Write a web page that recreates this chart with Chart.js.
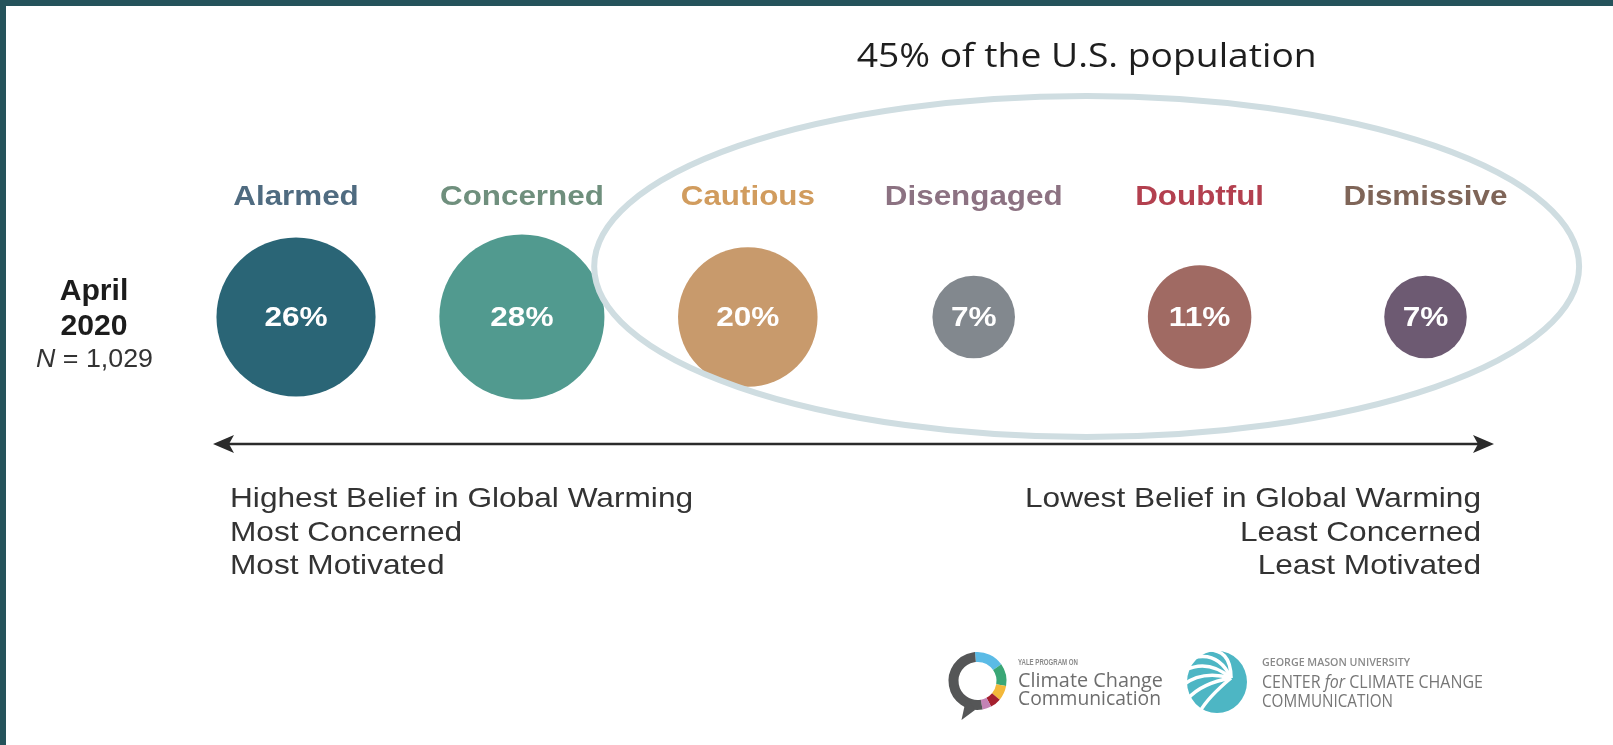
<!DOCTYPE html>
<html>
<head>
<meta charset="utf-8">
<script src="https://cdn.jsdelivr.net/npm/chart.js@4.4.1/dist/chart.umd.min.js"></script>
<style>
    html, body { margin: 0; padding: 0; background: #25535b; overflow: hidden; }
    #wrap { position: absolute; left: 6px; top: 6px; width: 1607px; height: 739px; background: #fff; }
    canvas { display: block; }
</style>
</head>
<body>
<div id="wrap"><canvas id="segments" width="1607" height="739"></canvas></div>
<script>
// Global Warming's Six Americas, April 2020
const categories   = ["Alarmed", "Concerned", "Cautious", "Disengaged", "Doubtful", "Dismissive"];
const shares       = [26, 28, 20, 7, 11, 7];
const bubbleColors = ["#2a6576", "#519a8f", "#c89a6c", "#82888e", "#a06a63", "#6d5a72"];
const labelColors  = ["#4f6b80", "#6f8f7d", "#d19c5e", "#8c7282", "#b3404f", "#7f6558"];
const surveyLines  = ["April", "2020", "1,029"];
const leftNotes    = ["Highest Belief in Global Warming", "Most Concerned", "Most Motivated"];
const rightNotes   = ["Lowest Belief in Global Warming", "Least Concerned", "Least Motivated"];
const groupFrom    = 2; // Cautious .. Dismissive sit inside the ring

// bubble area is proportional to the share
const AREA_K = 15.6;
const groupShare = shares.slice(groupFrom).reduce((a, b) => a + b, 0);

const HELV = '"Liberation Sans", Arial, sans-serif';
const OPEN = '"Open Sans", sans-serif';

// Original type is a wide Helvetica, so stretch Liberation Sans a bit.
function stretchText(ctx, text, x, y, sx, align) {
    ctx.save();
    ctx.translate(x, y);
    ctx.scale(sx, 1);
    ctx.textAlign = align || "center";
    ctx.fillText(text, 0, 0);
    ctx.restore();
}

// Draw a row of [font, text] runs starting at x, squeezed to a target width.
function drawRuns(ctx, runs, x, y, width) {
    let total = 0;
    for (const [font, t] of runs) { ctx.font = font; total += ctx.measureText(t).width; }
    const sx = width / total;
    ctx.save();
    ctx.translate(x, y);
    ctx.scale(sx, 1);
    ctx.textAlign = "left";
    let cx = 0;
    for (const [font, t] of runs) {
        ctx.font = font;
        ctx.fillText(t, cx, 0);
        cx += ctx.measureText(t).width;
    }
    ctx.restore();
}

function drawArrowHead(ctx, tipX, y, dir) {
    ctx.beginPath();
    ctx.moveTo(tipX, y);
    ctx.lineTo(tipX - dir * 21, y - 9);
    ctx.lineTo(tipX - dir * 16, y);
    ctx.lineTo(tipX - dir * 21, y + 9);
    ctx.closePath();
    ctx.fill();
}

function drawYaleLogo(ctx) {
    const cx = 971.5, cy = 675, r = 24;
    const deg = Math.PI / 180;
    const segs = [
        [-95, -35, "#5bbbe6"], [-35, 10, "#3aa776"], [10, 40, "#f3b83a"],
        [40, 62, "#a51f2e"], [62, 80, "#c382b5"], [80, 265, "#555657"],
    ];
    ctx.lineWidth = 10;
    for (const [a0, a1, c] of segs) {
        ctx.strokeStyle = c;
        ctx.beginPath();
        ctx.arc(cx, cy, r, a0 * deg, a1 * deg);
        ctx.stroke();
    }
    // speech-bubble tail
    ctx.fillStyle = "#555657";
    ctx.beginPath();
    ctx.moveTo(cx + 29 * Math.cos(95 * deg), cy + 29 * Math.sin(95 * deg));
    ctx.lineTo(cx - 16, cy + 39);
    ctx.lineTo(cx + 19 * Math.cos(125 * deg), cy + 19 * Math.sin(125 * deg));
    ctx.closePath();
    ctx.fill();

    ctx.fillStyle = "#8a8a8a";
    drawRuns(ctx, [[`bold 9px ${HELV}`, "YALE PROGRAM ON"]], 1012, 659, 60);
    ctx.fillStyle = "#6e6e6e";
    drawRuns(ctx, [[`20px ${OPEN}`, "Climate Change"]], 1012, 681, 145);
    drawRuns(ctx, [[`20px ${OPEN}`, "Communication"]], 1012, 699, 143);
}

function drawMasonLogo(ctx) {
    const cx = 1211, cy = 676;
    ctx.fillStyle = "#4db6c4";
    ctx.beginPath();
    ctx.ellipse(cx, cy, 30, 31, 0, 0, Math.PI * 2);
    ctx.fill();
    // white fan lines towards the focal point
    const fx = cx + 14, fy = cy - 4;
    ctx.strokeStyle = "#fff";
    ctx.lineWidth = 3.5;
    for (const a of [-60, -30, -5, 20, 45, 70]) {
        const t = (180 + a) * Math.PI / 180;
        ctx.beginPath();
        ctx.moveTo(fx, fy);
        ctx.quadraticCurveTo(fx + 30 * Math.cos(t + 0.35), fy + 30 * Math.sin(t + 0.35),
                             cx + 34 * Math.cos(t), cy + 34 * Math.sin(t));
        ctx.stroke();
    }
    ctx.fillStyle = "#8a8a8a";
    drawRuns(ctx, [[`600 10px ${OPEN}`, "GEORGE MASON UNIVERSITY"]], 1256, 660, 148);
    ctx.fillStyle = "#767676";
    drawRuns(ctx, [[`18px ${OPEN}`, "CENTER "], [`italic 18px ${OPEN}`, "for"], [`18px ${OPEN}`, " CLIMATE CHANGE"]], 1256, 682, 221);
    drawRuns(ctx, [[`18px ${OPEN}`, "COMMUNICATION"]], 1256, 701, 131);
}

const decor = {
    id: "decor",
    beforeDatasetsDraw(chart) {
        const { ctx, scales: { x, y } } = chart;
        const rowY = y.getPixelForValue(0);
        ctx.save();
        ctx.textBaseline = "alphabetic";

        // segment names
        ctx.font = `bold 28px ${HELV}`;
        categories.forEach((c, i) => {
            ctx.fillStyle = labelColors[i];
            stretchText(ctx, c, x.getPixelForValue(i), rowY - 112, 1.12);
        });

        // survey wave
        ctx.fillStyle = "#1c1c1c";
        ctx.font = `bold 29px ${HELV}`;
        stretchText(ctx, surveyLines[0], 88, rowY - 17, 1.04);
        stretchText(ctx, surveyLines[1], 88, rowY + 18, 1.04);
        ctx.fillStyle = "#333";
        const nRuns = [[`italic 25px ${HELV}`, "N"], [`25px ${HELV}`, " = " + surveyLines[2]]];
        drawRuns(ctx, nRuns, 30, rowY + 50, 117);

        // belief axis
        const yA = 438, x0 = 207, x1 = 1488;
        ctx.strokeStyle = "#2b2b2b";
        ctx.fillStyle = "#2b2b2b";
        ctx.lineWidth = 2.5;
        ctx.beginPath();
        ctx.moveTo(x0 + 10, yA);
        ctx.lineTo(x1 - 10, yA);
        ctx.stroke();
        drawArrowHead(ctx, x0, yA, -1);
        drawArrowHead(ctx, x1, yA, 1);

        ctx.fillStyle = "#333";
        ctx.font = `28px ${HELV}`;
        const lineY = [501, 535, 568];
        leftNotes.forEach((t, i) => stretchText(ctx, t, 224, lineY[i], 1.13, "left"));
        rightNotes.forEach((t, i) => stretchText(ctx, t, 1475, lineY[i], 1.13, "right"));

        drawYaleLogo(ctx);
        drawMasonLogo(ctx);
        ctx.restore();
    },
    afterDatasetsDraw(chart) {
        const { ctx, scales: { x, y } } = chart;
        const rowY = y.getPixelForValue(0);
        const pts = chart.getDatasetMeta(0).data;
        ctx.save();

        // shares inside the bubbles
        ctx.fillStyle = "#fff";
        ctx.font = `bold 27px ${HELV}`;
        ctx.textBaseline = "alphabetic";
        pts.forEach((p, i) => stretchText(ctx, shares[i] + "%", p.x, p.y + 9, 1.17));

        // ring round the less engaged segments
        const mid = (groupFrom + categories.length - 1) / 2;
        const cx = x.getPixelForValue(mid);
        const rx = x.getPixelForValue(mid + 2.18) - cx;
        const cy = rowY - 50.5;
        ctx.strokeStyle = "#cfdde1";
        ctx.lineWidth = 6;
        ctx.beginPath();
        ctx.ellipse(cx, cy, rx, 170.5, 0, 0, Math.PI * 2);
        ctx.stroke();

        // group caption
        ctx.fillStyle = "#1e1e1e";
        const caption = `${groupShare}% of the U.S. population`;
        ctx.font = `33px ${OPEN}`;
        const w = ctx.measureText(caption).width;
        drawRuns(ctx, [[`33px ${OPEN}`, caption]], cx - 230, 61, 460);
        ctx.restore();
    },
};

const points = shares.map((v, i) => ({ x: i, y: 0, r: Math.sqrt(v) * AREA_K }));

new Chart(document.getElementById("segments"), {
    type: "bubble",
    data: {
        datasets: [{
            data: points,
            backgroundColor: bubbleColors,
            borderWidth: 0,
            hoverRadius: 0,
            hoverBorderWidth: 0,
        }],
    },
    options: {
        responsive: false,
        animation: false,
        events: [],
        layout: { padding: 0, autoPadding: false },
        plugins: { legend: { display: false }, tooltip: { enabled: false } },
        scales: {
            x: { type: "linear", display: false, min: -1.2838, max: 5.83 },
            y: { type: "linear", display: false, min: -1.3762, max: 1 },
        },
    },
    plugins: [decor],
});
</script>
</body>
</html>
